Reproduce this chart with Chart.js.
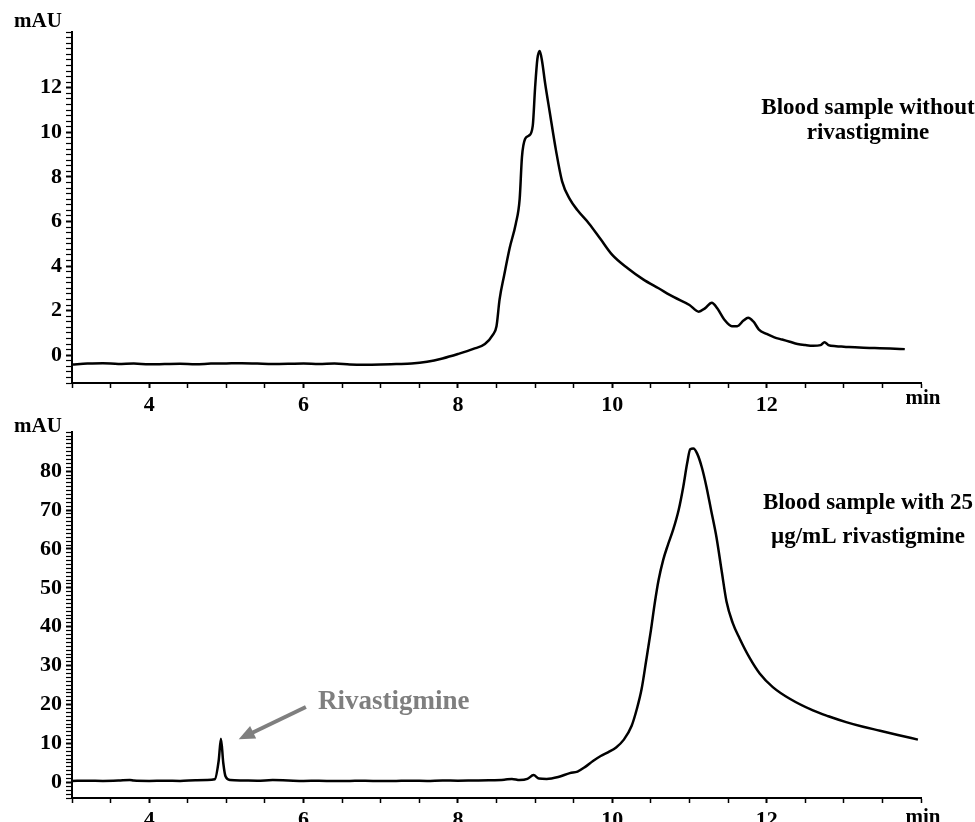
<!DOCTYPE html>
<html lang="en">
<head>
  <meta charset="UTF-8" />
  <title>Blood sample chromatograms</title>
  <script src="https://cdn.jsdelivr.net/npm/chart.js@4"></script>
  <style>
    html, body { margin: 0; padding: 0; background: #fff; }
    #wrap { position: relative; width: 975px; height: 822px; overflow: hidden; }
    .panel { position: absolute; left: 0; width: 975px; }
    #top { top: 0; height: 415px; }
    #bottom { top: 415px; height: 407px; }
  </style>
</head>
<body>
  <div id="wrap">
    <div class="panel" id="top"><canvas id="blankChart"></canvas></div>
    <div class="panel" id="bottom"><canvas id="spikedChart"></canvas></div>
  </div>

  <script>
    // retention time (min) and absorbance (mAU)
    const blankTimes = [3.0, 3.2, 3.4, 3.6, 3.8, 4.0, 4.2, 4.4, 4.6, 4.8, 5.0, 5.2, 5.4, 5.6, 5.8, 6.0, 6.2, 6.4, 6.6, 6.8,
      7.0, 7.2, 7.4, 7.6, 7.8, 8.0, 8.2, 8.35, 8.45, 8.5, 8.54, 8.6, 8.67, 8.75, 8.8, 8.83, 8.87, 8.92, 8.97, 9.0,
      9.03, 9.06, 9.09, 9.13, 9.19, 9.27, 9.35, 9.45, 9.55, 9.7, 9.85, 10.0, 10.2, 10.4, 10.6, 10.8, 11.0, 11.12, 11.2, 11.29,
      11.36, 11.45, 11.55, 11.62, 11.7, 11.76, 11.83, 11.9, 12.0, 12.1, 12.2, 12.3, 12.4, 12.5, 12.6, 12.7, 12.75, 12.8, 12.9, 13.0,
      13.2, 13.4, 13.6, 13.79];
    const blankValues = [-0.42, -0.38, -0.36, -0.40, -0.38, -0.41, -0.40, -0.39, -0.41, -0.38, -0.37, -0.36, -0.38, -0.40, -0.39, -0.37, -0.40, -0.38, -0.42, -0.43,
      -0.42, -0.40, -0.38, -0.30, -0.15, 0.05, 0.28, 0.5, 0.9, 1.3, 2.5, 3.6, 4.8, 5.9, 7.0, 8.9, 9.7, 9.85, 10.3, 12.0,
      13.3, 13.65, 13.2, 12.2, 10.9, 9.2, 7.8, 7.0, 6.5, 5.9, 5.2, 4.5, 3.9, 3.4, 3.0, 2.6, 2.25, 1.95, 2.1, 2.35,
      2.1, 1.6, 1.3, 1.3, 1.55, 1.68, 1.5, 1.15, 0.95, 0.8, 0.7, 0.6, 0.5, 0.45, 0.42, 0.45, 0.58, 0.45, 0.4, 0.38,
      0.34, 0.32, 0.3, 0.27];

    const spikedTimes = [3.0, 3.2, 3.4, 3.6, 3.75, 3.8, 4.0, 4.2, 4.4, 4.6, 4.75, 4.85, 4.9, 4.93, 4.96, 4.99, 5.05, 5.2, 5.4, 5.6,
      5.8, 6.0, 6.2, 6.4, 6.6, 6.8, 7.0, 7.2, 7.4, 7.6, 7.8, 8.0, 8.2, 8.4, 8.6, 8.7, 8.8, 8.9, 8.98, 9.05,
      9.15, 9.3, 9.45, 9.55, 9.65, 9.75, 9.85, 9.95, 10.05, 10.15, 10.25, 10.32, 10.38, 10.44, 10.5, 10.55, 10.6, 10.66, 10.72, 10.79,
      10.86, 10.92, 10.97, 11.01, 11.05, 11.1, 11.16, 11.22, 11.28, 11.35, 11.42, 11.48, 11.56, 11.65, 11.78, 11.91, 12.08, 12.3, 12.6, 12.8,
      13.03, 13.25, 13.47, 13.7, 13.96];
    const spikedValues = [0.4, 0.45, 0.4, 0.5, 0.65, 0.5, 0.4, 0.45, 0.4, 0.55, 0.6, 0.8, 5.5, 11.2, 5.0, 1.5, 0.6, 0.5, 0.45, 0.6,
      0.5, 0.4, 0.45, 0.35, 0.4, 0.45, 0.35, 0.4, 0.45, 0.4, 0.5, 0.45, 0.5, 0.55, 0.7, 0.9, 0.6, 0.9, 1.9, 1.0,
      0.9, 1.4, 2.4, 2.8, 4.0, 5.5, 6.8, 7.8, 9.0, 11.0, 14.5, 19.0, 24.0, 31.4, 39.0, 46.0, 52.0, 57.2, 61.0, 65.0,
      70.0, 76.0, 82.0, 85.6, 85.8, 84.5, 81.0, 76.0, 70.0, 63.0, 54.0, 46.5, 41.0, 37.0, 32.0, 28.0, 24.5, 21.5, 18.5, 17.0,
      15.5, 14.3, 13.3, 12.2, 11.0];

    const timeLabels = [4, 6, 8, 10, 12];
    const blankLabels = [0, 2, 4, 6, 8, 10, 12];
    const spikedLabels = [0, 10, 20, 30, 40, 50, 60, 70, 80];

    const FONT = '"Liberation Serif", "Times New Roman", serif';
    const tickFont = { family: FONT, size: 22, weight: 'bold' };

    function isLabel(list, v) {
      return list.some(l => Math.abs(l - v) < 1e-6);
    }

    // axis captions, sample title and the rivastigmine arrow
    function textPlugin(cfg) {
      return {
        id: 'texts',
        afterDraw(chart) {
          const { ctx, chartArea, scales } = chart;
          ctx.save();
          ctx.fillStyle = '#000';
          ctx.textAlign = 'center';
          ctx.textBaseline = 'middle';
          ctx.font = 'bold 21px ' + FONT;
          ctx.fillText('mAU', chartArea.left - 34, cfg.mauY);
          ctx.fillText('min', chartArea.right + 2, chartArea.bottom + cfg.minDy);

          ctx.font = 'bold 23px ' + FONT;
          cfg.title.forEach((line, i) => {
            ctx.fillText(line, 868, cfg.titleY + i * cfg.titleGap);
          });

          if (cfg.arrow) {
            const a = cfg.arrow;
            const x0 = scales.x.getPixelForValue(a.from[0]), y0 = scales.y.getPixelForValue(a.from[1]);
            const x1 = scales.x.getPixelForValue(a.to[0]), y1 = scales.y.getPixelForValue(a.to[1]);
            const ang = Math.atan2(y1 - y0, x1 - x0);
            const head = 16;
            ctx.strokeStyle = '#7f7f7f';
            ctx.fillStyle = '#7f7f7f';
            ctx.lineWidth = 4;
            ctx.beginPath();
            ctx.moveTo(x0, y0);
            ctx.lineTo(x1 - head * 0.8 * Math.cos(ang), y1 - head * 0.8 * Math.sin(ang));
            ctx.stroke();
            ctx.beginPath();
            ctx.moveTo(x1, y1);
            ctx.lineTo(x1 - head * Math.cos(ang) + 7 * Math.sin(ang), y1 - head * Math.sin(ang) - 7 * Math.cos(ang));
            ctx.lineTo(x1 - head * Math.cos(ang) - 7 * Math.sin(ang), y1 - head * Math.sin(ang) + 7 * Math.cos(ang));
            ctx.closePath();
            ctx.fill();
            ctx.font = 'bold 27px ' + FONT;
            ctx.fillText(a.text, scales.x.getPixelForValue(a.textAt[0]), scales.y.getPixelForValue(a.textAt[1]));
          }
          ctx.restore();
        }
      };
    }

    function makeChart(id, times, values, yMin, yMax, yStep, yLabels, padTop, xHeight, cfg) {
      return new Chart(document.getElementById(id), {
        type: 'line',
        data: {
          datasets: [{
            data: times.map((t, i) => ({ x: t, y: values[i] })),
            borderColor: '#000',
            borderWidth: 2.5,
            pointRadius: 0,
            cubicInterpolationMode: 'monotone',
            fill: false
          }]
        },
        options: {
          responsive: true,
          maintainAspectRatio: false,
          animation: false,
          layout: { padding: { top: padTop, right: 54, left: 0, bottom: 0 } },
          plugins: { legend: { display: false }, tooltip: { enabled: false } },
          scales: {
            x: {
              type: 'linear',
              min: 3, max: 14,
              afterFit: s => { s.height = xHeight; },
              ticks: {
                stepSize: 0.5, autoSkip: false, maxRotation: 0,
                color: '#000', font: tickFont, padding: 4,
                callback: v => isLabel(timeLabels, v) ? String(v) : ''
              },
              grid: {
                drawOnChartArea: false, tickLength: 5, tickColor: '#000',
                tickWidth: c => isLabel(timeLabels, c.tick.value) ? 2 : 1.5
              },
              border: { color: '#000', width: 2 }
            },
            y: {
              min: yMin, max: yMax,
              afterFit: s => { s.width = 72; },
              ticks: {
                stepSize: yStep, autoSkip: false,
                color: '#000', font: tickFont, padding: 4,
                callback: v => isLabel(yLabels, v) ? String(v) : ''
              },
              grid: {
                drawOnChartArea: false, tickLength: 6, tickColor: '#000',
                tickWidth: c => isLabel(yLabels, c.tick.value) ? 2 : 1.2
              },
              border: { color: '#000', width: 2 }
            }
          }
        },
        plugins: [textPlugin(cfg)]
      });
    }

    makeChart('blankChart', blankTimes, blankValues, -1.25, 14.5, 0.25, blankLabels, 32, 32, {
      mauY: 22, minDy: 16,
      title: ['Blood sample without', 'rivastigmine'], titleY: 108, titleGap: 25
    });

    makeChart('spikedChart', spikedTimes, spikedValues, -4, 90, 1, spikedLabels, 17, 24, {
      mauY: 12, minDy: 20,
      title: ['Blood sample with 25', 'µg/mL rivastigmine'], titleY: 88, titleGap: 34,
      arrow: { from: [6.03, 19.4], to: [5.16, 11.1], textAt: [7.17, 20.7], text: 'Rivastigmine' }
    });
  </script>
</body>
</html>
